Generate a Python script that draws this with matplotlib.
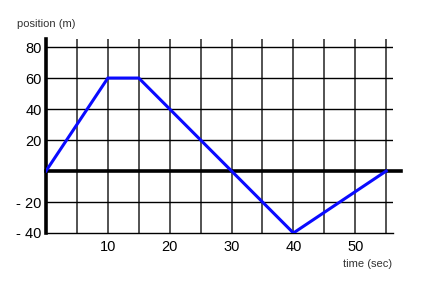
import matplotlib.pyplot as plt

# position-time data (sec, m)
time_s = [0, 10, 15, 40, 55]
position_m = [0, 60, 60, -40, 0]

x_ticks = [10, 20, 30, 40, 50]
x_grid = [5, 10, 15, 20, 25, 30, 35, 40, 45, 50, 55]
y_ticks = [80, 60, 40, 20, -20, -40]
y_labels = ["80", "60", "40", "20", "- 20", "- 40"]
y_grid = [80, 60, 40, 20, -20]

plt.rcParams['font.family'] = ['Liberation Sans', 'DejaVu Sans']

fig = plt.figure(figsize=(4.24, 2.89), dpi=100)
ax = fig.add_axes([46 / 424, 56 / 289, 347 / 424, 194 / 289])
ax.set_xlim(0, 56.1)
ax.set_ylim(-40, 85.2)

for x in x_grid:
    ax.axvline(x, color="#444444", lw=1.3, zorder=1)
for y in y_grid:
    ax.axhline(y, color="black", lw=1.0, zorder=1)

# thick zero line running past the grid
ax.plot([0, 57.4], [0, 0], color="black", lw=2.6, clip_on=False, zorder=2)

ax.plot(time_s, position_m, color="#0a0aff", lw=2.2, zorder=3,
        solid_joinstyle="miter")

for side in ["top", "right"]:
    ax.spines[side].set_visible(False)
ax.spines["left"].set_linewidth(2.6)
ax.spines["bottom"].set_linewidth(1.0)

ax.set_xticks(x_ticks)
ax.set_yticks(y_ticks)
ax.set_yticklabels(y_labels)
ax.tick_params(length=0, labelsize=10.5, pad=5)
ax.tick_params(axis="y", pad=3)

fig.text(17 / 424, 1 - 27 / 289, "position (m)", fontsize=8, color="#333333")
fig.text(392 / 424, 1 - 267 / 289, "time (sec)", fontsize=8, color="#333333",
         ha="right")

fig.savefig("out.png", dpi=100)
